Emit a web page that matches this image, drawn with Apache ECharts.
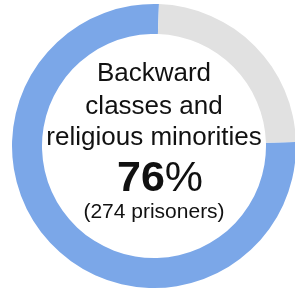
<!DOCTYPE html>
<html>
<head>
<meta charset="utf-8">
<script src="https://cdn.jsdelivr.net/npm/echarts@6/dist/echarts.min.js"></script>
<style>
  html, body { margin: 0; padding: 0; background: #fff; }
  #chart { width: 295px; height: 289px; }
</style>
</head>
<body>
<div id="chart"></div>
<script>
const categories = ['Backward classes and religious minorities', 'Others']
const shares = [76, 24]
const prisoners = 274
const colors = ['#7ba7e8', '#e1e1e1']

const font = '"Liberation Sans", Arial, sans-serif'
const cx = 154
const cy = 146

const chart = echarts.init(document.getElementById('chart'))

const textLine = (text, x, y, size) => ({
  type: 'text',
  x: x,
  y: y,
  silent: true,
  style: {
    text: text,
    fill: '#111',
    font: size + 'px ' + font,
    align: 'center',
    verticalAlign: 'middle'
  }
})

chart.setOption({
  animation: false,
  series: [{
    type: 'pie',
    center: [cx, cy],
    radius: [112, 142],
    startAngle: 88,
    clockwise: false,
    silent: true,
    label: { show: false },
    labelLine: { show: false },
    itemStyle: { borderWidth: 0 },
    data: categories.map((name, i) => ({
      name: name,
      value: shares[i],
      itemStyle: { color: colors[i] }
    }))
  }],
  graphic: [
    textLine('Backward', cx, 74, 26),
    textLine('classes and', cx, 107, 26),
    textLine('religious minorities', cx, 138, 26),
    {
      type: 'text',
      x: 160,
      y: 179,
      silent: true,
      style: {
        text: '{b|' + shares[0] + '}{p|%}',
        align: 'center',
        verticalAlign: 'middle',
        rich: {
          b: { fontFamily: font, fontSize: 43, fontWeight: 'bold', fill: '#111' },
          p: { fontFamily: font, fontSize: 43, fontWeight: 'normal', fill: '#111' }
        }
      }
    },
    textLine('(' + prisoners + ' prisoners)', cx, 212, 21)
  ]
})
</script>
</body>
</html>
